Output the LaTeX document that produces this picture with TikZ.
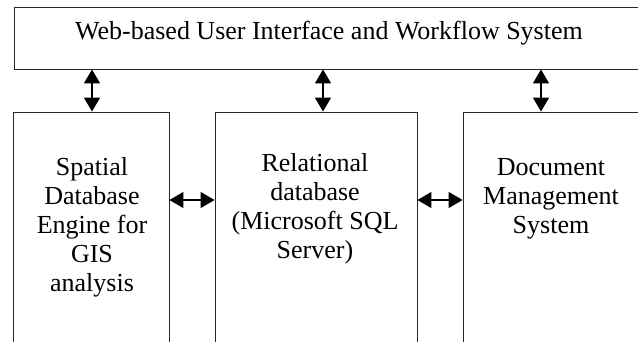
\documentclass[tikz,border=0pt]{standalone}
\usepackage{fontspec}
\setmainfont{Liberation Serif}
\usetikzlibrary{arrows.meta,calc}
\begin{document}
\begin{tikzpicture}[x=1pt,y=-1pt,
  box/.style={draw=black!85, line width=0.9pt, inner sep=0pt},
  lbl/.style={align=center, inner sep=0pt, font=\fontsize{26}{29}\selectfont},
  arr/.style={{Triangle[length=14pt,width=16pt]}-{Triangle[length=14pt,width=16pt]}, line width=1.5pt}]
\useasboundingbox (0,0) rectangle (638,341);
\fill[white] (0,0) rectangle (638,341);
\begin{scope}
\clip (0,0) rectangle (638,341);
\node[box, minimum width=640pt, minimum height=62pt] (top) at (334,38) {};
\node[lbl, anchor=base] (title) at (329,39) {Web-based User Interface and Workflow System};
\node[box, minimum width=156pt, minimum height=258pt] (lbox) at (91,241) {};
\node[box, minimum width=202pt, minimum height=258pt] (mbox) at (316,241) {};
\node[box, minimum width=187pt, minimum height=258pt] (rbox) at (556.5,241) {};
\node[lbl, anchor=north] (ltext) at (92,157) {Spatial\\Database\\Engine for\\GIS\\analysis};
\node[lbl, anchor=north] (mtext) at (315,153) {Relational\\database\\(Microsoft SQL\\Server)};
\node[lbl, anchor=north] (rtext) at (551,158.5) {Document\\Management\\System};
\draw[arr] ([xshift=1pt]lbox.north |- top.south) -- ([xshift=1pt]lbox.north);
\draw[arr] ([xshift=7pt]mbox.north |- top.south) -- ([xshift=7pt]mbox.north);
\draw[arr] ([xshift=-15.5pt]rbox.north |- top.south) -- ([xshift=-15.5pt]rbox.north);
\draw[arr] ([yshift=41pt]lbox.east) -- ([yshift=41pt]mbox.west);
\draw[arr] ([yshift=41pt]mbox.east) -- ([yshift=41pt]rbox.west);
\end{scope}
\end{tikzpicture}
\end{document}
